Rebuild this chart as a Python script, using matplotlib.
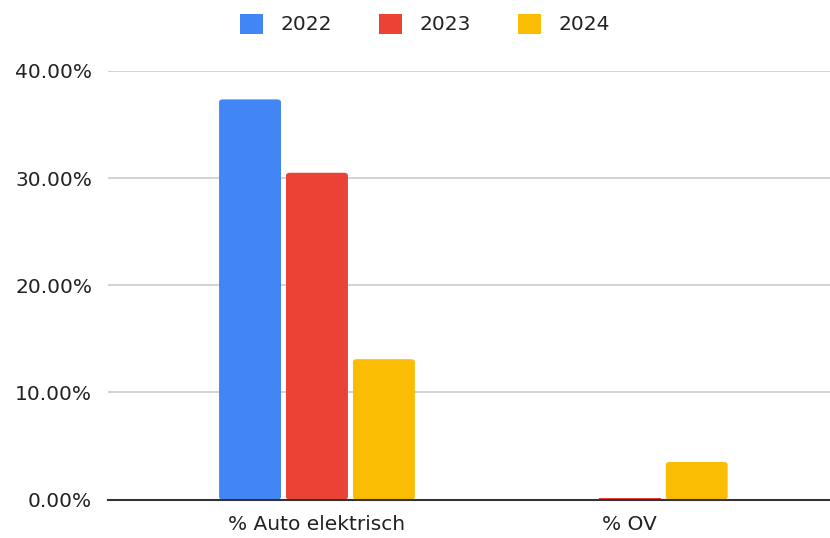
import numpy as np
import matplotlib
matplotlib.use("Agg")
import matplotlib.pyplot as plt
from matplotlib.patches import FancyBboxPatch, Patch

plt.rcParams['font.family'] = ['DejaVu Sans']

categories = ["% Auto elektrisch", "% OV"]
years = ["2022", "2023", "2024"]
v2022 = [37.35, 0.0]
v2023 = [30.5, 0.1]
v2024 = [13.1, 3.5]
colors = ["#4285F4", "#EA4335", "#FBBC04"]

fig = plt.figure(figsize=(8.3, 5.38), dpi=100)
ax = fig.add_axes([108 / 830, 38.5 / 538, 722 / 830, 428.5 / 538])

x = np.arange(len(categories))
w = 0.198
step = 0.214
for i, (vals, col) in enumerate(zip([v2022, v2023, v2024], colors)):
    bars = ax.bar(x + (i - 1) * step, vals, width=w, color=col, zorder=3)
    for b in bars:
        h = b.get_height()
        if h > 1:
            # swap plain bar for one with slightly rounded corners
            b.set_visible(False)
            ax.add_patch(FancyBboxPatch((b.get_x(), 0), w, h,
                                        boxstyle="round,pad=0,rounding_size=0.012",
                                        mutation_aspect=1 / 0.0045 * 0.1,
                                        facecolor=col, edgecolor='none', zorder=3))

ax.set_xlim(-0.668, 1.64)
ax.set_ylim(0, 40)
ax.set_yticks([0, 10, 20, 30, 40])
ax.set_yticklabels(["0.00%", "10.00%", "20.00%", "30.00%", "40.00%"])
ax.set_xticks(x)
ax.set_xticklabels(categories)
ax.tick_params(axis='both', length=0, labelsize=14.5, colors='#222222')
ax.tick_params(axis='y', pad=11.5)
ax.tick_params(axis='x', pad=11)
ax.grid(axis='y', color='#cccccc', linewidth=1.2, zorder=0)
for s in ['top', 'right', 'left']:
    ax.spines[s].set_visible(False)
ax.spines['bottom'].set_color('#333333')
ax.spines['bottom'].set_linewidth(1.5)
ax.spines['bottom'].set_zorder(4)

handles = [Patch(facecolor=c, edgecolor='none') for c in colors]
fig.legend(handles, years, loc='center', bbox_to_anchor=(425 / 830, 1 - 24 / 538),
           ncol=3, frameon=False, fontsize=14.5, handlelength=1.15, handleheight=1.15,
           columnspacing=2.3, handletextpad=0.9, labelcolor='#222222')

fig.savefig("out.png", dpi=100)
